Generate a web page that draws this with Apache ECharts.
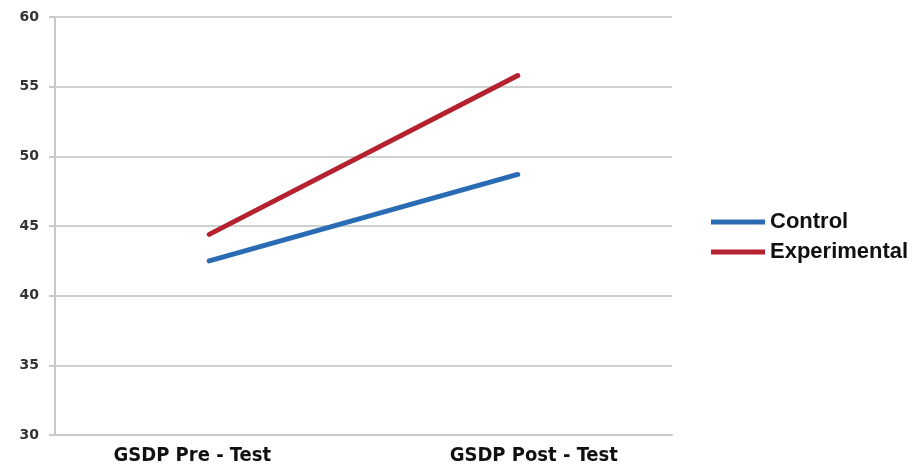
<!DOCTYPE html>
<html><head><meta charset="utf-8">
<script src="https://cdn.jsdelivr.net/npm/echarts@6/dist/echarts.min.js"></script>
<style>html,body{margin:0;padding:0;background:#fff}#c{width:912px;height:470px}</style>
</head><body><div id="c"></div>
<script>
const categories = ['GSDP Pre - Test', 'GSDP Post - Test'];
const controlValues = [42.5, 48.7];
const experimentalValues = [44.4, 55.8];
const yTicks = [30, 35, 40, 45, 50, 55, 60];

const chart = echarts.init(document.getElementById('c'));
chart.setOption({
  backgroundColor: '#ffffff',
  animation: false,
  grid: { left: 55, right: 240, top: 17, bottom: 35 },
  legend: {
    orient: 'vertical', left: 706, top: 206,
    itemWidth: 54, itemHeight: 5, itemGap: 8, icon: 'rect',
    textStyle: { fontFamily: 'Liberation Sans', fontWeight: 'bold', fontSize: 22, color: '#111' },
    data: ['Control', 'Experimental']
  },
  xAxis: {
    type: 'category', data: categories, boundaryGap: true,
    axisLine: { lineStyle: { color: '#c8c8c8', width: 2 } },
    axisTick: { show: false },
    axisLabel: {
      margin: 11,
      formatter: (v, i) => i === 0 ? '{a|' + v + '}' : '{b|' + v + '}',
      rich: {
        a: { fontFamily: 'DejaVu Sans Condensed', fontWeight: 'bold', fontSize: 20, color: '#111', padding: [0, 34, 0, 0] },
        b: { fontFamily: 'DejaVu Sans Condensed', fontWeight: 'bold', fontSize: 20, color: '#111', padding: [0, 0, 0, 32] }
      }
    }
  },
  yAxis: {
    type: 'value', min: yTicks[0], max: yTicks[yTicks.length - 1], interval: 5,
    axisLine: { show: true, lineStyle: { color: '#c8c8c8', width: 2 } },
    axisTick: { show: true, length: 6, lineStyle: { color: '#c8c8c8', width: 2 } },
    splitLine: { lineStyle: { color: '#d0d0d0', width: 2 } },
    axisLabel: { margin: 16, fontFamily: 'DejaVu Sans', fontWeight: 'bold', fontSize: 14, color: '#333' }
  },
  series: [
    { name: 'Control', type: 'line', data: controlValues, symbol: 'none',
      lineStyle: { color: '#2a6cb3', width: 5, cap: 'round' }, itemStyle: { color: '#2a6cb3' } },
    { name: 'Experimental', type: 'line', data: experimentalValues, symbol: 'none',
      lineStyle: { color: '#b3222e', width: 5, cap: 'round' }, itemStyle: { color: '#b3222e' } }
  ]
});
</script></body></html>
